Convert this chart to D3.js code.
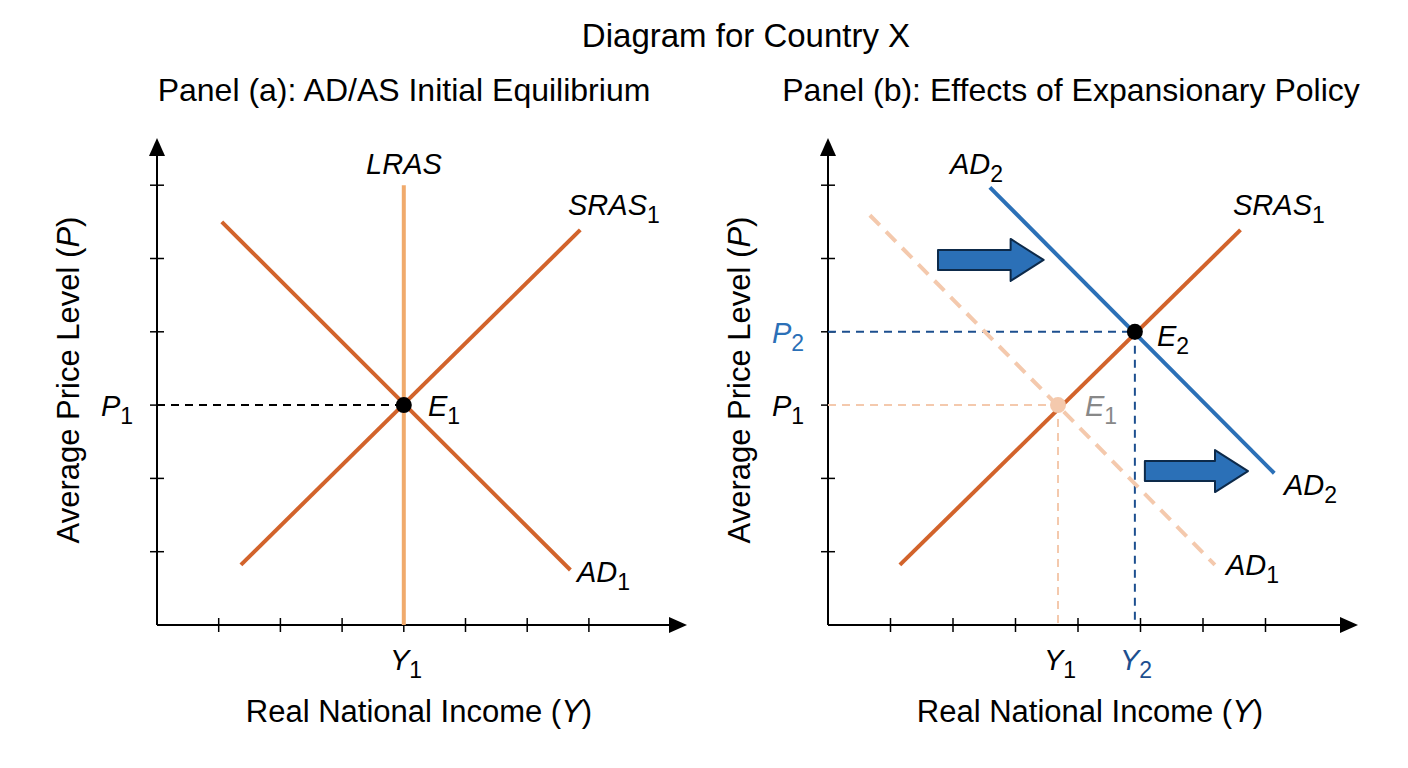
<!DOCTYPE html>
<html><head><meta charset="utf-8">
<script src="https://cdn.jsdelivr.net/npm/d3@7"></script>
<style>body{margin:0;background:#fff}text{font-family:"Liberation Sans",Arial,sans-serif}</style>
</head><body><svg id="c" width="1408" height="768"></svg>
<script>
// data in axis units
var xTicks = [1, 2, 3, 4, 5, 6, 7];
var yTicks = [1, 2, 3, 4, 5, 6];
var lrasA = [[4, 0], [4, 6]];
var srasA = [[1.36, 0.82], [6.86, 5.39]];
var adA = [[1.05, 5.5], [6.7, 0.75]];
var eqA = [4, 3];
var srasB = [[1.15, 0.82], [6.6, 5.39]];
var ad1B = [[0.67, 5.59], [6.19, 0.82]];
var ad2B = [[2.59, 5.97], [7.14, 2.07]];
var e1B = [3.68, 3], e2B = [4.91, 4];
var arrowsB = [[1.76, 3.45, 4.98], [5.07, 6.72, 2.1]];

var ORANGE = "#d2632b", LIGHT = "#f0aa6c", FADED = "#f4c9ad", BLUE = "#2b70b7", NAVY = "#1d4f8f";
var svg = d3.select("#c");
svg.append("text").attr("x", 746).attr("y", 47).attr("text-anchor", "middle").attr("font-size", 33).text("Diagram for Country X");

function panel(ox, unitX, title, titleX) {
  var x = d3.scaleLinear().domain([0, 1]).range([ox, ox + unitX]);
  var y = d3.scaleLinear().domain([0, 1]).range([625, 625 - 73.3]);
  var g = svg.append("g");
  g.append("text").attr("x", titleX).attr("y", 101).attr("text-anchor", "middle").attr("font-size", 32).text(title);
  g.append("line").attr("x1", ox).attr("y1", 625).attr("x2", ox + 520).attr("y2", 625).attr("stroke", "#000").attr("stroke-width", 2);
  g.append("line").attr("x1", ox).attr("y1", 625).attr("x2", ox).attr("y2", 150).attr("stroke", "#000").attr("stroke-width", 2);
  g.append("path").attr("d", `M${ox + 530},625 l-18,-8 l0,16 z`);
  g.append("path").attr("d", `M${ox},138 l-8,18 l16,0 z`);
  g.selectAll(".xt").data(xTicks).enter().append("line").attr("x1", d => x(d)).attr("x2", d => x(d)).attr("y1", 618).attr("y2", 632).attr("stroke", "#000").attr("stroke-width", 1.5);
  g.selectAll(".yt").data(yTicks).enter().append("line").attr("y1", d => y(d)).attr("y2", d => y(d)).attr("x1", ox - 7).attr("x2", ox + 7).attr("stroke", "#000").attr("stroke-width", 1.5);
  var yl = g.append("text").attr("transform", `translate(${ox - 78},380) rotate(-90)`).attr("text-anchor", "middle").attr("font-size", 31);
  yl.append("tspan").text("Average Price Level (");
  yl.append("tspan").attr("font-style", "italic").text("P");
  yl.append("tspan").text(")");
  var xl = g.append("text").attr("x", ox + 262).attr("y", 722).attr("text-anchor", "middle").attr("font-size", 31);
  xl.append("tspan").text("Real National Income (");
  xl.append("tspan").attr("font-style", "italic").text("Y");
  xl.append("tspan").text(")");
  return {g: g, x: x, y: y};
}
function seg(p, pts, color, w, dash) {
  p.g.append("line").attr("x1", p.x(pts[0][0])).attr("y1", p.y(pts[0][1])).attr("x2", p.x(pts[1][0])).attr("y2", p.y(pts[1][1]))
    .attr("stroke", color).attr("stroke-width", w).attr("stroke-dasharray", dash || null);
}
function label(p, px, py, main, sub, color, anchor) {
  var t = p.g.append("text").attr("x", px).attr("y", py).attr("font-size", 29).attr("font-style", "italic").attr("fill", color || "#000").attr("text-anchor", anchor || "start");
  t.append("tspan").text(main);
  if (sub) t.append("tspan").attr("font-style", "normal").attr("font-size", 23).attr("dy", 8).text(sub);
}

// Panel a
var a = panel(157, 61.7, "Panel (a): AD/AS Initial Equilibrium", 404);
seg(a, [[0, eqA[1]], eqA], "#000", 2, "8,6");
seg(a, lrasA, LIGHT, 4);
seg(a, srasA, ORANGE, 4);
seg(a, adA, ORANGE, 4);
a.g.append("circle").attr("cx", a.x(eqA[0])).attr("cy", a.y(eqA[1])).attr("r", 8);
label(a, 404, 174, "LRAS", null, "#000", "middle");
label(a, 568, 215, "SRAS", "1");
label(a, 577, 582, "AD", "1");
label(a, 428, 416, "E", "1");
label(a, 101, 416, "P", "1");
label(a, 390, 670, "Y", "1");

// Panel b
var b = panel(828, 62.5, "Panel (b): Effects of Expansionary Policy", 1071);
seg(b, [[0, e1B[1]], e1B], FADED, 2, "8,6");
seg(b, [e1B, [e1B[0], 0]], FADED, 2, "8,6");
seg(b, [[0, e2B[1]], e2B], NAVY, 2, "8,6");
seg(b, [e2B, [e2B[0], 0]], NAVY, 2, "8,6");
seg(b, ad1B, FADED, 4, "14,9");
seg(b, srasB, ORANGE, 4);
seg(b, ad2B, BLUE, 4);
b.g.append("circle").attr("cx", b.x(e1B[0])).attr("cy", b.y(e1B[1])).attr("r", 8).attr("fill", FADED);
b.g.append("circle").attr("cx", b.x(e2B[0])).attr("cy", b.y(e2B[1])).attr("r", 8);
arrowsB.forEach(function (d) {
  var x0 = b.x(d[0]), x1 = b.x(d[1]), yc = b.y(d[2]), hx = x1 - 33;
  b.g.append("path").attr("d", `M${x0},${yc - 10} L${hx},${yc - 10} L${hx},${yc - 21} L${x1},${yc} L${hx},${yc + 21} L${hx},${yc + 10} L${x0},${yc + 10} Z`)
    .attr("fill", BLUE).attr("stroke", "#0d2a4a").attr("stroke-width", 2).attr("stroke-linejoin", "round");
});
label(b, 950, 174, "AD", "2");
label(b, 1233, 215, "SRAS", "1");
label(b, 1284, 495, "AD", "2");
label(b, 1226, 575, "AD", "1");
label(b, 1157, 346, "E", "2");
label(b, 1085, 416, "E", "1", "#888");
label(b, 772, 343, "P", "2", BLUE);
label(b, 772, 416, "P", "1");
label(b, 1044, 670, "Y", "1");
label(b, 1120, 670, "Y", "2", NAVY);
</script></body></html>
